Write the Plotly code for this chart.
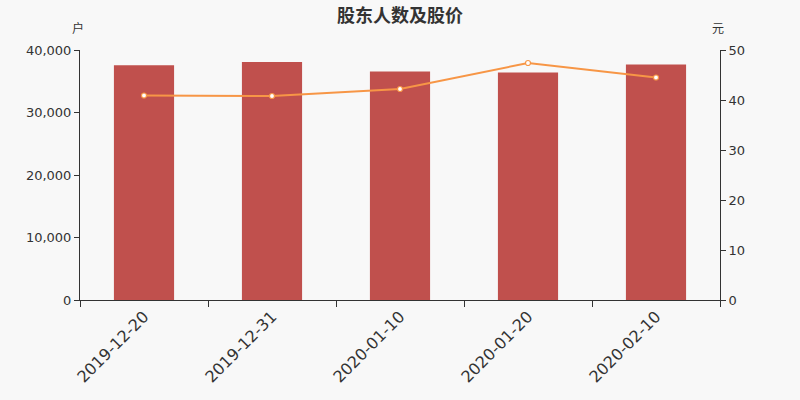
import plotly.graph_objects as go

# data
dates = ['2019-12-20', '2019-12-31', '2020-01-10', '2020-01-20', '2020-02-10']
holders = [37550, 38080, 36580, 36400, 37700]
price = [40.9, 40.8, 42.2, 47.4, 44.5]

bg = '#f8f8f8'
axis_col = '#333333'

fig = go.Figure()
fig.add_bar(x=dates, y=holders, name='股东人数', marker_color='#c0504d',
            marker_line_width=0, width=0.47)
fig.add_scatter(x=dates, y=price, name='股价', yaxis='y2', mode='lines+markers',
                line=dict(color='#f79646', width=2),
                marker=dict(size=5, color='#ffffff', line=dict(color='#f79646', width=1.2)))

fig.update_layout(
    width=800, height=400,
    paper_bgcolor=bg, plot_bgcolor=bg,
    margin=dict(l=80, r=80, t=50, b=100),
    showlegend=False,
    font=dict(family='Noto Sans CJK SC, DejaVu Sans', color=axis_col),
    title=dict(text='<b>股东人数及股价</b>', x=0.5, xanchor='center',
               y=0.962, yanchor='middle', font=dict(size=18, color='#333333')),
    xaxis=dict(type='category', showline=True, linecolor=axis_col, linewidth=1,
               ticks='outside', tickson='boundaries', ticklen=6, tickcolor=axis_col,
               tickangle=-45, tickfont=dict(size=16, family='DejaVu Sans', color=axis_col),
               showgrid=False),
    yaxis=dict(range=[0, 40000], dtick=10000, tickformat=',', showline=True,
               linecolor=axis_col, ticks='outside', ticklen=5, tickcolor=axis_col,
               showgrid=False, zeroline=False,
               tickfont=dict(size=13, family='DejaVu Sans', color=axis_col)),
    yaxis2=dict(range=[0, 50], dtick=10, overlaying='y', side='right', showline=True,
                linecolor=axis_col, ticks='outside', ticklen=5, tickcolor=axis_col,
                showgrid=False, zeroline=False,
                tickfont=dict(size=13, family='DejaVu Sans', color=axis_col)),
    annotations=[
        dict(text='户', xref='paper', yref='paper', x=-0.003, y=1.088, xanchor='center',
             yanchor='middle', showarrow=False, font=dict(size=12, color=axis_col)),
        dict(text='元', xref='paper', yref='paper', x=0.997, y=1.088, xanchor='center',
             yanchor='middle', showarrow=False, font=dict(size=12, color=axis_col)),
    ],
)

fig.write_html("out.html", config={'displayModeBar': False},
               post_script="document.body.style.margin='0px';")
